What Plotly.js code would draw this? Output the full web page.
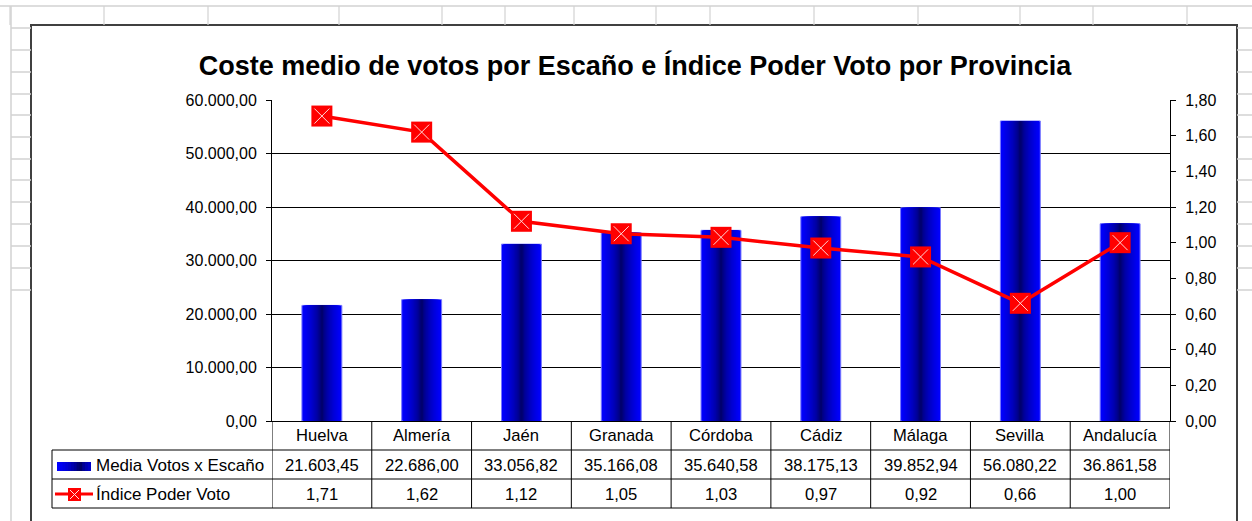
<!DOCTYPE html>
<html>
<head>
<meta charset="utf-8">
<script src="https://cdn.plot.ly/plotly-3.0.1.min.js"></script>
<style>
  html, body { margin: 0; padding: 0; background: #fff; }
  #chart { width: 1252px; height: 521px; }
</style>
</head>
<body>
<div id="chart"></div>
<script>
// Datos por provincia
const provincias = ['Huelva', 'Almería', 'Jaén', 'Granada', 'Córdoba', 'Cádiz', 'Málaga', 'Sevilla', 'Andalucía'];
const mediaVotos = [21603.45, 22686.00, 33056.82, 35166.08, 35640.58, 38175.13, 39852.94, 56080.22, 36861.58];
const indicePoder = [1.71, 1.62, 1.12, 1.05, 1.03, 0.97, 0.92, 0.66, 1.00];
const serieBarras = 'Media Votos x Escaño';
const serieLinea = 'Índice Poder Voto';

// geometría del área de trazado (px)
const W = 1252, H = 521;
const PL = 272, PR = 1170, PT = 100, PB = 421;
const px = x => (x - PL) / (PR - PL);
const py = y => (PB - y) / (PB - PT);

const FONT = 'Liberation Sans, Arial, sans-serif';

function fmtEs(v, dec) {
    const parts = v.toFixed(dec).split('.');
    parts[0] = parts[0].replace(/\B(?=(\d{3})+(?!\d))/g, '.');
    return parts.join(',');
}

// color del degradado: t = 1 borde (azul), t = 0 centro (azul marino)
const gradColor = t => `rgb(0,0,${Math.round(62 + 193 * Math.sqrt(t))})`;

// barras con degradado: varias barras superpuestas cada vez más estrechas
const traces = [];
const N = 16;
for (let i = 0; i < N; i++) {
    const t = 1 - i / N;
    traces.push({
        type: 'bar',
        x: provincias,
        y: mediaVotos,
        width: 0.4 * t,
        marker: {
            color: gradColor(t),
            line: i === 0 ? { color: '#7878ff', width: 1 } : { width: 0 }
        },
        showlegend: false,
        hoverinfo: i === 0 ? 'y' : 'skip',
        name: serieBarras
    });
}

traces.push({
    type: 'scatter',
    mode: 'lines+markers',
    x: provincias,
    y: indicePoder,
    yaxis: 'y2',
    name: serieLinea,
    line: { color: '#ff0000', width: 3.5 },
    marker: { symbol: 'square', size: 21, color: '#ff0000', line: { width: 0 } },
    showlegend: false
});
traces.push({
    type: 'scatter',
    mode: 'markers',
    x: provincias,
    y: indicePoder,
    yaxis: 'y2',
    marker: { symbol: 'x-thin', size: 15, line: { color: 'rgba(255,225,225,0.95)', width: 1 } },
    showlegend: false,
    hoverinfo: 'skip'
});

// decoración: rejilla de la hoja de cálculo y borde del gráfico
const shapes = [];
const grey = '#d2d2d2';
const hline = (x0, x1, y, color, width) => shapes.push({
    type: 'line', xref: 'paper', yref: 'paper',
    x0: px(x0), x1: px(x1), y0: py(y), y1: py(y), line: { color: color, width: width }
});
const vline = (x, y0, y1, color, width) => shapes.push({
    type: 'line', xref: 'paper', yref: 'paper',
    x0: px(x), x1: px(x), y0: py(y0), y1: py(y1), line: { color: color, width: width }
});

hline(0, W, 6, grey, 1.5);
[10, 104, 208, 339, 442, 505, 574, 656, 710, 814, 918, 1020, 1093, 1187].forEach(x => vline(x, 6, 25, grey, 1.2));
vline(11, 6, H, grey, 1.5);
[28, 50, 72, 94, 115, 137, 159, 180, 202, 224, 246, 268, 290].forEach(y => {
    hline(11, 31, y, grey, 1.5);
    hline(1237, W, y, grey, 1.5);
});
shapes.push({
    type: 'rect', xref: 'paper', yref: 'paper',
    x0: px(31), x1: px(1237), y0: py(25), y1: py(H + 10),
    line: { color: '#404040', width: 2 }, layer: 'below'
});

// tabla de datos
const tabla = '#000000';
const colEdge = k => k - 0.5;
for (let k = 0; k <= provincias.length; k++) {
    shapes.push({
        type: 'line', xref: 'x', yref: 'paper',
        x0: colEdge(k), x1: colEdge(k), y0: py(421), y1: py(508),
        line: { color: tabla, width: 1 }
    });
}
[450, 479, 508].forEach(y => hline(52, PR, y, tabla, 1));
vline(52, 450, 508, tabla, 1);

// clave de la serie de barras (degradado de azul a azul marino)
const keyN = 12;
for (let i = 0; i < keyN; i++) {
    const f = i / (keyN - 1);
    const t = f < 0.7 ? 1 - f / 0.7 : (f - 0.7) / 0.3 * 0.5;
    shapes.push({
        type: 'rect', xref: 'paper', yref: 'paper',
        x0: px(57 + i * 2.8), x1: px(91), y0: py(462), y1: py(471),
        fillcolor: gradColor(t), line: { width: 0 }
    });
}
// clave de la serie de línea
hline(55, 93, 494, '#ff0000', 3);
shapes.push({
    type: 'rect', xref: 'paper', yref: 'paper',
    x0: px(68), x1: px(81), y0: py(488), y1: py(501),
    fillcolor: '#ff0000', line: { width: 0 }
});
shapes.push({ type: 'line', xref: 'paper', yref: 'paper', x0: px(70), x1: px(79), y0: py(490), y1: py(499), line: { color: '#ffe0e0', width: 1 } });
shapes.push({ type: 'line', xref: 'paper', yref: 'paper', x0: px(70), x1: px(79), y0: py(499), y1: py(490), line: { color: '#ffe0e0', width: 1 } });

const annotations = [];
const cellFont = { family: FONT, size: 16.6, color: '#000' };
provincias.forEach((p, i) => {
    annotations.push({ xref: 'x', yref: 'paper', x: i, y: py(435.5), text: p, showarrow: false, font: cellFont, xanchor: 'center', yanchor: 'middle' });
    annotations.push({ xref: 'x', yref: 'paper', x: i, y: py(465), text: fmtEs(mediaVotos[i], 2), showarrow: false, font: cellFont, xanchor: 'center', yanchor: 'middle' });
    annotations.push({ xref: 'x', yref: 'paper', x: i, y: py(494), text: fmtEs(indicePoder[i], 2), showarrow: false, font: cellFont, xanchor: 'center', yanchor: 'middle' });
});
const keyFont = { family: FONT, size: 17, color: '#000' };
annotations.push({ xref: 'paper', yref: 'paper', x: px(94), y: py(465), text: serieBarras, showarrow: false, font: keyFont, xanchor: 'left', yanchor: 'middle' });
annotations.push({ xref: 'paper', yref: 'paper', x: px(94), y: py(494), text: serieLinea, showarrow: false, font: keyFont, xanchor: 'left', yanchor: 'middle' });

const layout = {
    width: W,
    height: H,
    margin: { l: PL, r: W - PR, t: PT, b: H - PB, pad: 0 },
    paper_bgcolor: '#ffffff',
    plot_bgcolor: 'rgba(0,0,0,0)',
    separators: ',.',
    barmode: 'overlay',
    showlegend: false,
    font: { family: FONT, size: 16, color: '#000' },
    title: {
        text: '<b>Coste medio de votos por Escaño e Índice Poder Voto por Provincia</b>',
        font: { family: FONT, size: 27, color: '#000' },
        x: 635 / W, xref: 'container', xanchor: 'center',
        y: 1 - 66 / H, yref: 'container', yanchor: 'middle'
    },
    xaxis: {
        type: 'category',
        range: [-0.5, provincias.length - 0.5],
        showticklabels: false,
        ticks: '',
        showgrid: false,
        showline: true,
        linecolor: '#000',
        linewidth: 1,
        fixedrange: true
    },
    yaxis: {
        range: [0, 60000],
        dtick: 10000,
        tickformat: ',.2f',
        ticks: 'outside',
        ticklen: 5,
        tickcolor: '#000',
        ticklabelstandoff: 6,
        showline: true,
        linecolor: '#000',
        linewidth: 1,
        showgrid: true,
        gridcolor: '#000',
        gridwidth: 1,
        zeroline: false,
        tickfont: { family: FONT, size: 16, color: '#000' }
    },
    yaxis2: {
        overlaying: 'y',
        side: 'right',
        range: [0, 1.8],
        dtick: 0.2,
        tickformat: '.2f',
        ticks: 'outside',
        ticklen: 5,
        tickcolor: '#000',
        ticklabelstandoff: 6,
        showline: true,
        linecolor: '#000',
        linewidth: 1,
        showgrid: false,
        zeroline: false,
        tickfont: { family: FONT, size: 16, color: '#000' }
    },
    shapes: shapes,
    annotations: annotations
};

Plotly.newPlot('chart', traces, layout, { displayModeBar: false, staticPlot: true });
</script>
</body>
</html>
